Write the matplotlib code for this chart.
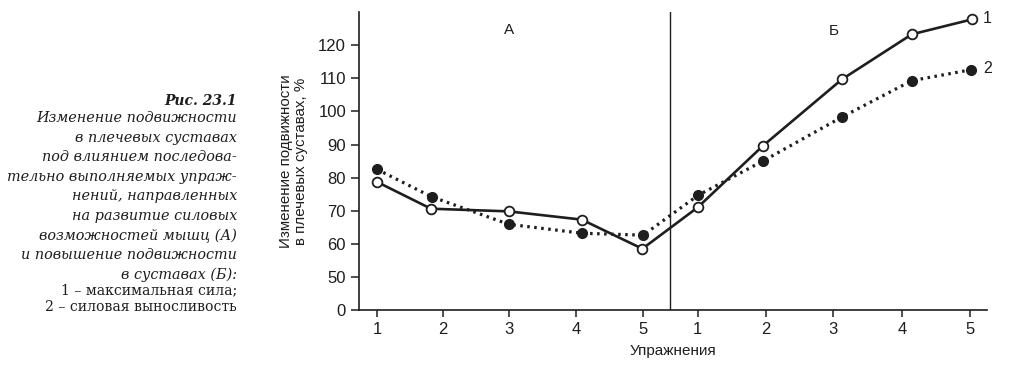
import matplotlib.pyplot as plt

# тики по оси X (позиции) и подписи
tick_pos = [1, 2, 3, 4.02, 5.04, 5.87, 6.9, 7.93, 8.97, 10.0]
tick_labels = ['1', '2', '3', '4', '5', '1', '2', '3', '4', '5']

# 1 - максимальная сила
x1 = [1.0, 1.82, 3.0, 4.11, 5.03, 5.87, 6.86, 8.06, 9.12, 10.03]
y1 = [78.7, 70.6, 69.8, 67.3, 58.5, 71.0, 89.6, 109.7, 123.3, 127.8]

# 2 - силовая выносливость
x2 = [1.0, 1.83, 3.0, 4.11, 5.04, 5.88, 6.86, 8.06, 9.12, 10.02]
y2 = [82.5, 74.2, 65.9, 63.2, 62.6, 74.7, 85.0, 98.3, 109.3, 112.6]

# ось Y с разрывом: "0" стоит на месте 40
yticks = [40, 50, 60, 70, 80, 90, 100, 110, 120]
ylabels = ['0', '50', '60', '70', '80', '90', '100', '110', '120']

caption = ('Изменение подвижности\nв плечевых суставах\nпод влиянием последова-\n'
           'тельно выполняемых упраж-\nнений, направленных\nна развитие силовых\n'
           'возможностей мышц (А)\nи повышение подвижности\nв суставах (Б):')

ink = '#1e1e1e'
plt.rcParams['font.family'] = ['Liberation Sans', 'DejaVu Sans']

fig = plt.figure(figsize=(10.09, 3.69), dpi=100)
ax = fig.add_axes([0.356, 0.160, 0.622, 0.807])

ax.plot(x1, y1, color=ink, lw=1.9, marker='o', ms=7, mfc='white', mec=ink, mew=1.3, zorder=3)
ax.plot(x2, y2, color=ink, lw=2.3, ls=(0, (0.8, 1.4)), marker='o', ms=7, mfc=ink, mec=ink, zorder=3)

# разделитель А / Б
ax.axvline(5.45, color=ink, lw=1.0)

ax.set_xlim(0.73, 10.26)
ax.set_ylim(40, 130)
ax.set_xticks(tick_pos)
ax.set_xticklabels(tick_labels)
ax.set_yticks(yticks)
ax.set_yticklabels(ylabels)
for s in ['top', 'right']:
    ax.spines[s].set_visible(False)
for s in ['left', 'bottom']:
    ax.spines[s].set_color(ink)
    ax.spines[s].set_linewidth(1.2)
ax.tick_params(colors=ink, labelsize=12, length=6, width=1.1)
ax.tick_params(axis='x', length=5, pad=4)

ax.text(3.0, 124.5, 'А', ha='center', va='center', fontsize=11, color=ink)
ax.text(7.93, 124.2, 'Б', ha='center', va='center', fontsize=11, color=ink)
ax.text(10.2, 128.2, '1', ha='left', va='center', fontsize=11.5, color=ink, clip_on=False)
ax.text(10.2, 112.9, '2', ha='left', va='center', fontsize=11.5, color=ink, clip_on=False)

ax.set_xlabel('Упражнения', fontsize=11, color=ink, labelpad=5)
ax.set_ylabel('Изменение подвижности\nв плечевых суставах, %', fontsize=10.9, color=ink,
              labelpad=7, linespacing=1.12)

# подпись к рисунку слева
fig.text(0.235, 0.727, 'Рис. 23.1', ha='right', va='center', fontsize=10,
         family='DejaVu Serif', style='italic', weight='bold', color=ink)
fig.text(0.235, 0.698, caption, ha='right', va='top', fontsize=10.4,
         family='DejaVu Serif', style='italic', color=ink, linespacing=1.5)
fig.text(0.235, 0.190, '1 – максимальная сила;\n2 – силовая выносливость', ha='right',
         va='center', fontsize=10.1, family='DejaVu Serif', color=ink, linespacing=1.2)

fig.savefig('out.png', dpi=100)
